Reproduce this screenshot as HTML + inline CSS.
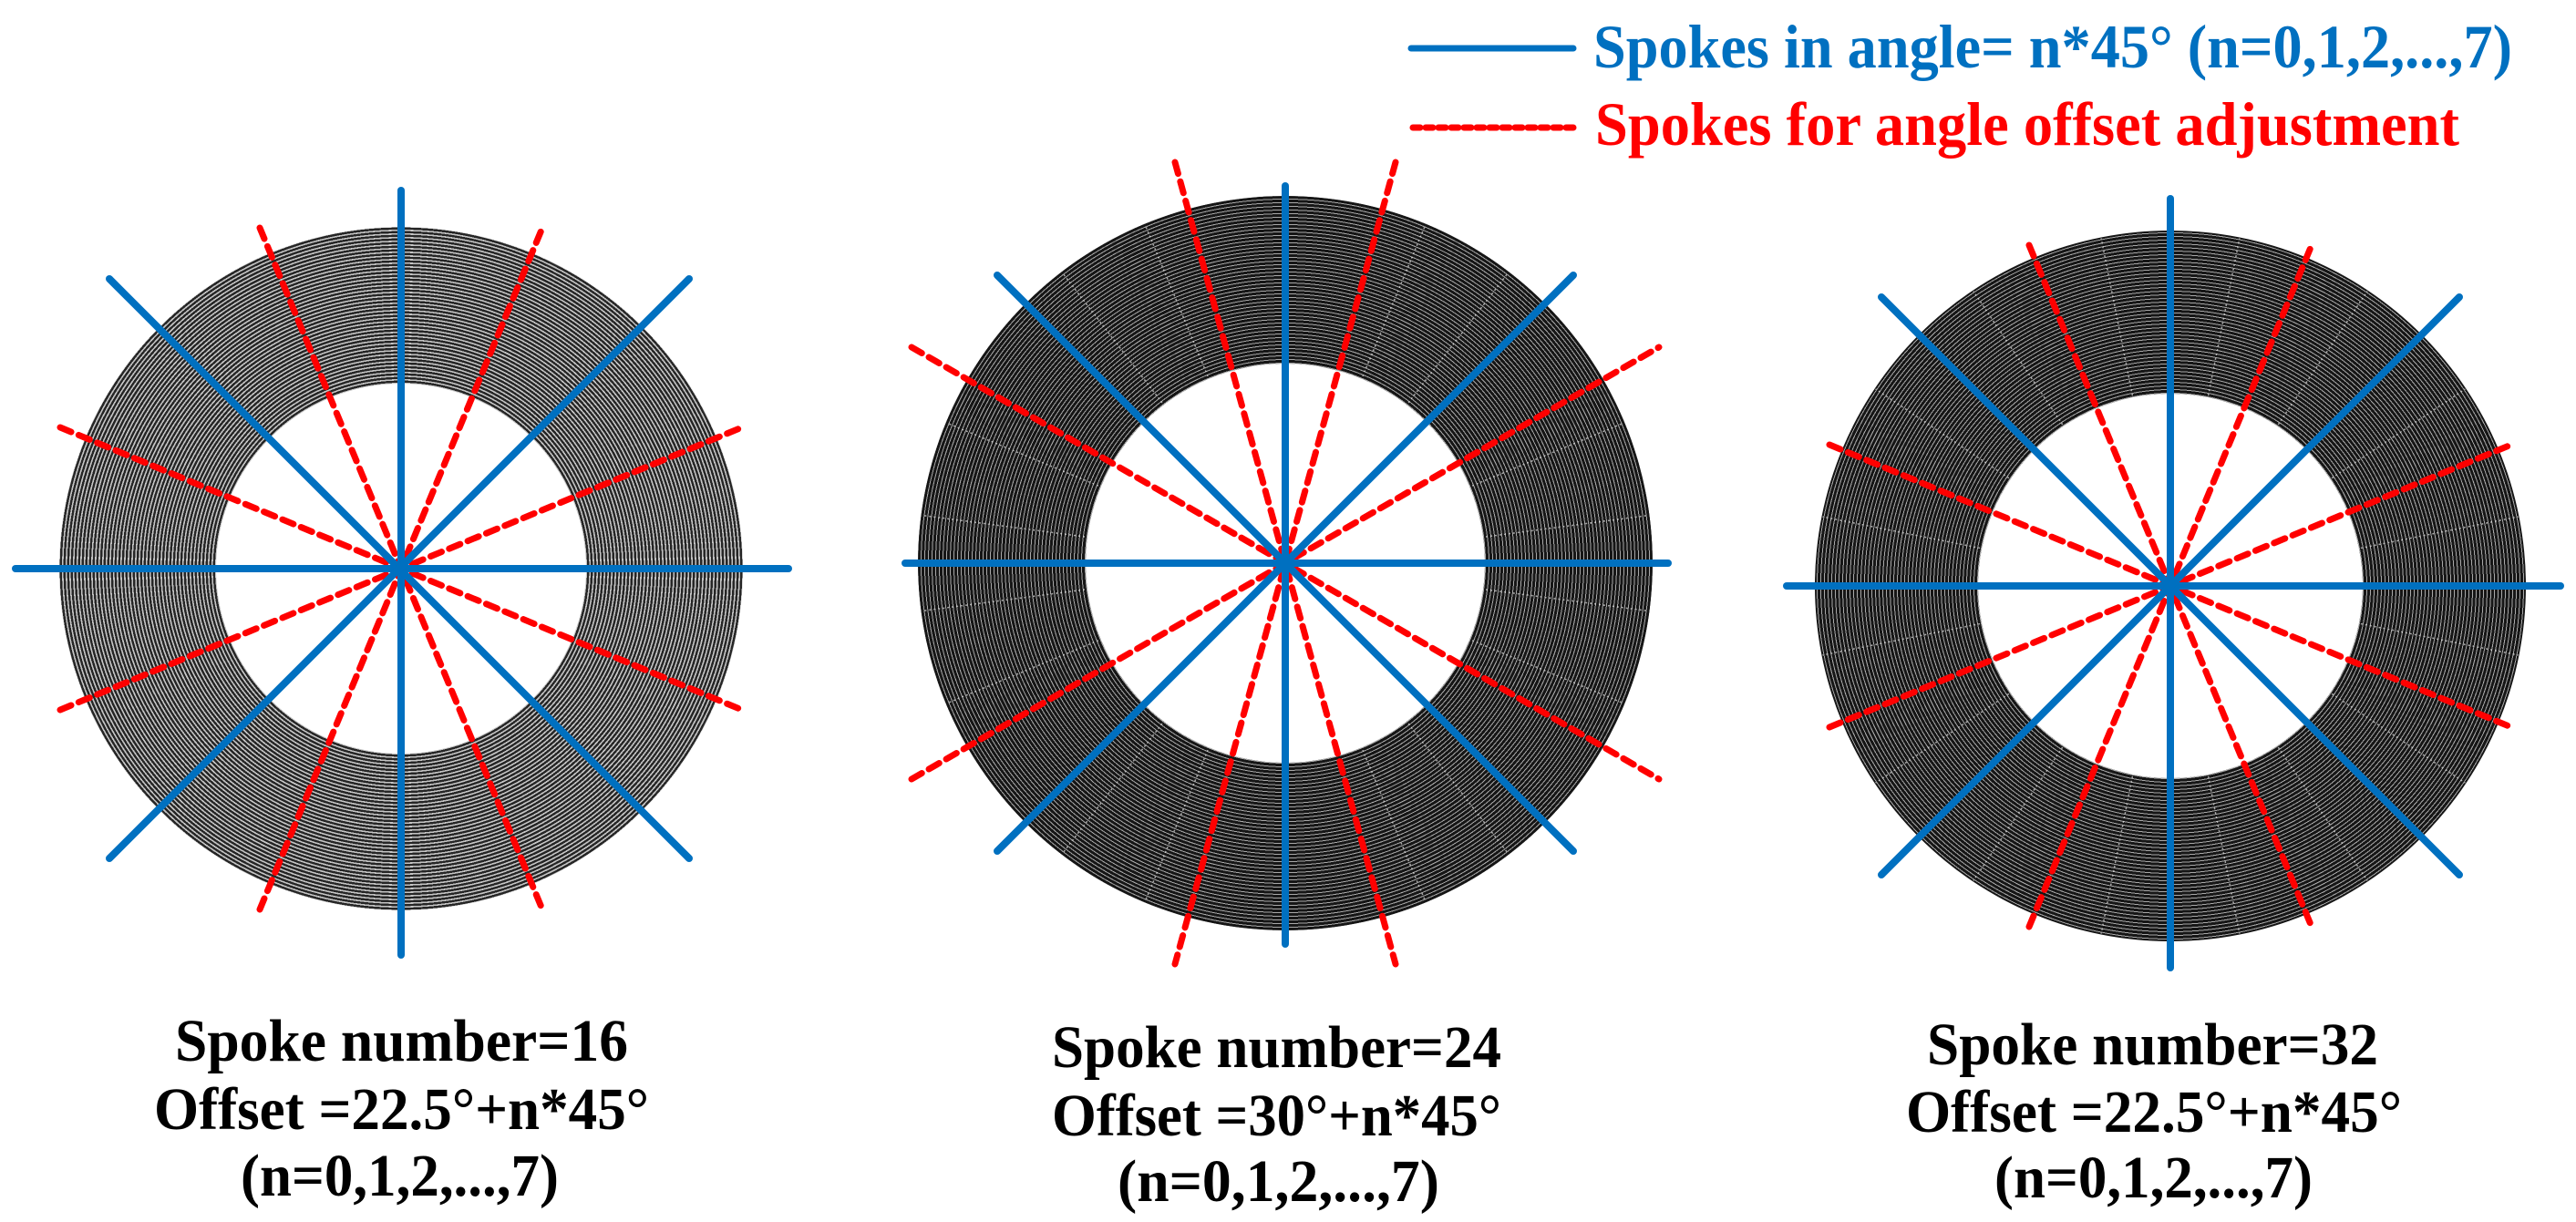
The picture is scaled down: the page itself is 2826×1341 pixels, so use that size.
<!DOCTYPE html>
<html><head><meta charset="utf-8"><style>
html,body{margin:0;padding:0;background:#fff;}
body{width:2826px;height:1341px;position:relative;overflow:hidden;}
.ring{position:absolute;border-radius:50%;}
.hole{position:absolute;border-radius:50%;background:#fff;}
svg{position:absolute;left:0;top:0;}
</style></head><body>
<div class="ring" style="left:65px;top:249px;width:750px;height:750px;background:repeating-radial-gradient(circle at center,#262626 0 2.4px,#c4c4c4 2.4px 4px);"></div>
<div class="hole" style="left:237px;top:421px;width:406px;height:406px;"></div>
<div class="ring" style="left:1007px;top:215px;width:806px;height:806px;background:repeating-radial-gradient(circle at center,#161616 0 3px,#a8a8a8 3px 4px);"></div>
<div class="hole" style="left:1191px;top:399px;width:438px;height:438px;"></div>
<div class="ring" style="left:1991px;top:253px;width:780px;height:780px;background:repeating-radial-gradient(circle at center,#161616 0 3px,#a8a8a8 3px 4px);"></div>
<div class="hole" style="left:2170px;top:432px;width:422px;height:422px;"></div>
<svg width="2826" height="1341" viewBox="0 0 2826 1341">
<g stroke="#e8e8e8" stroke-width="1.5" stroke-dasharray="2 3" opacity="0.7">
<g transform="translate(1410,618)">
<line x1="222" y1="0" x2="402" y2="0" transform="rotate(7.5)"/><line x1="222" y1="0" x2="402" y2="0" transform="rotate(22.5)"/><line x1="222" y1="0" x2="402" y2="0" transform="rotate(52.5)"/><line x1="222" y1="0" x2="402" y2="0" transform="rotate(67.5)"/><line x1="222" y1="0" x2="402" y2="0" transform="rotate(112.5)"/><line x1="222" y1="0" x2="402" y2="0" transform="rotate(127.5)"/><line x1="222" y1="0" x2="402" y2="0" transform="rotate(157.5)"/><line x1="222" y1="0" x2="402" y2="0" transform="rotate(172.5)"/><line x1="222" y1="0" x2="402" y2="0" transform="rotate(187.5)"/><line x1="222" y1="0" x2="402" y2="0" transform="rotate(202.5)"/><line x1="222" y1="0" x2="402" y2="0" transform="rotate(232.5)"/><line x1="222" y1="0" x2="402" y2="0" transform="rotate(247.5)"/><line x1="222" y1="0" x2="402" y2="0" transform="rotate(292.5)"/><line x1="222" y1="0" x2="402" y2="0" transform="rotate(307.5)"/><line x1="222" y1="0" x2="402" y2="0" transform="rotate(337.5)"/><line x1="222" y1="0" x2="402" y2="0" transform="rotate(352.5)"/>
</g>
<g transform="translate(2381,643)">
<line x1="213" y1="0" x2="389" y2="0" transform="rotate(11.25)"/><line x1="213" y1="0" x2="389" y2="0" transform="rotate(33.75)"/><line x1="213" y1="0" x2="389" y2="0" transform="rotate(56.25)"/><line x1="213" y1="0" x2="389" y2="0" transform="rotate(78.75)"/><line x1="213" y1="0" x2="389" y2="0" transform="rotate(101.25)"/><line x1="213" y1="0" x2="389" y2="0" transform="rotate(123.75)"/><line x1="213" y1="0" x2="389" y2="0" transform="rotate(146.25)"/><line x1="213" y1="0" x2="389" y2="0" transform="rotate(168.75)"/><line x1="213" y1="0" x2="389" y2="0" transform="rotate(191.25)"/><line x1="213" y1="0" x2="389" y2="0" transform="rotate(213.75)"/><line x1="213" y1="0" x2="389" y2="0" transform="rotate(236.25)"/><line x1="213" y1="0" x2="389" y2="0" transform="rotate(258.75)"/><line x1="213" y1="0" x2="389" y2="0" transform="rotate(281.25)"/><line x1="213" y1="0" x2="389" y2="0" transform="rotate(303.75)"/><line x1="213" y1="0" x2="389" y2="0" transform="rotate(326.25)"/><line x1="213" y1="0" x2="389" y2="0" transform="rotate(348.75)"/>
</g>
</g>
<g stroke="#ff0000" stroke-width="7" stroke-dasharray="13 9" stroke-linecap="round" fill="none">
<line x1="66" y1="779" x2="814" y2="469"/><line x1="66" y1="469" x2="814" y2="779"/>
<line x1="285" y1="998" x2="595" y2="250"/><line x1="285" y1="250" x2="595" y2="998"/>
<line x1="1000" y1="855" x2="1820" y2="381"/><line x1="1000" y1="381" x2="1820" y2="855"/>
<line x1="1289" y1="178" x2="1531" y2="1058"/><line x1="1531" y1="178" x2="1289" y2="1058"/>
<line x1="2007" y1="798" x2="2755" y2="488"/><line x1="2007" y1="488" x2="2755" y2="798"/>
<line x1="2226" y1="1017" x2="2536" y2="269"/><line x1="2226" y1="269" x2="2536" y2="1017"/>
</g>
<g stroke="#0070c0" stroke-width="8" stroke-linecap="round" fill="none">
<line x1="17" y1="624" x2="865" y2="624"/><line x1="440" y1="209" x2="440" y2="1048"/>
<line x1="120" y1="306" x2="756" y2="942"/><line x1="120" y1="942" x2="756" y2="306"/>
<line x1="993" y1="618" x2="1830" y2="618"/><line x1="1410" y1="204" x2="1410" y2="1036"/>
<line x1="1094" y1="302" x2="1726" y2="934"/><line x1="1094" y1="934" x2="1726" y2="302"/>
<line x1="1960" y1="643" x2="2809" y2="643"/><line x1="2381" y1="218" x2="2381" y2="1062"/>
<line x1="2064" y1="326" x2="2698" y2="960"/><line x1="2064" y1="960" x2="2698" y2="326"/>
</g>
<line x1="1548" y1="53" x2="1726" y2="53" stroke="#0070c0" stroke-width="7" stroke-linecap="round"/>
<line x1="1550" y1="140" x2="1726" y2="140" stroke="#ff0000" stroke-width="7" stroke-dasharray="8 6" stroke-linecap="round"/>
<g font-family="'Liberation Serif','DejaVu Serif',serif" font-weight="bold">
<text x="1748" y="74" font-size="68" fill="#0070c0" textLength="1008" lengthAdjust="spacingAndGlyphs">Spokes in angle= n*45° (n=0,1,2,...,7)</text>
<text x="1750" y="159" font-size="68" fill="#ff0000" textLength="948" lengthAdjust="spacingAndGlyphs">Spokes for angle offset adjustment</text>
<g font-size="66" fill="#000">
<text x="192" y="1164" textLength="497" lengthAdjust="spacingAndGlyphs">Spoke number=16</text>
<text x="169" y="1239" textLength="543" lengthAdjust="spacingAndGlyphs">Offset =22.5°+n*45°</text>
<text x="264" y="1312" textLength="349" lengthAdjust="spacingAndGlyphs">(n=0,1,2,...,7)</text>
<text x="1154" y="1171" textLength="493" lengthAdjust="spacingAndGlyphs">Spoke number=24</text>
<text x="1154" y="1246" textLength="493" lengthAdjust="spacingAndGlyphs">Offset =30°+n*45°</text>
<text x="1226" y="1318" textLength="353" lengthAdjust="spacingAndGlyphs">(n=0,1,2,...,7)</text>
<text x="2114" y="1168" textLength="495" lengthAdjust="spacingAndGlyphs">Spoke number=32</text>
<text x="2091" y="1242" textLength="544" lengthAdjust="spacingAndGlyphs">Offset =22.5°+n*45°</text>
<text x="2188" y="1314" textLength="349" lengthAdjust="spacingAndGlyphs">(n=0,1,2,...,7)</text>
</g>
</g>
</svg>
</body></html>
